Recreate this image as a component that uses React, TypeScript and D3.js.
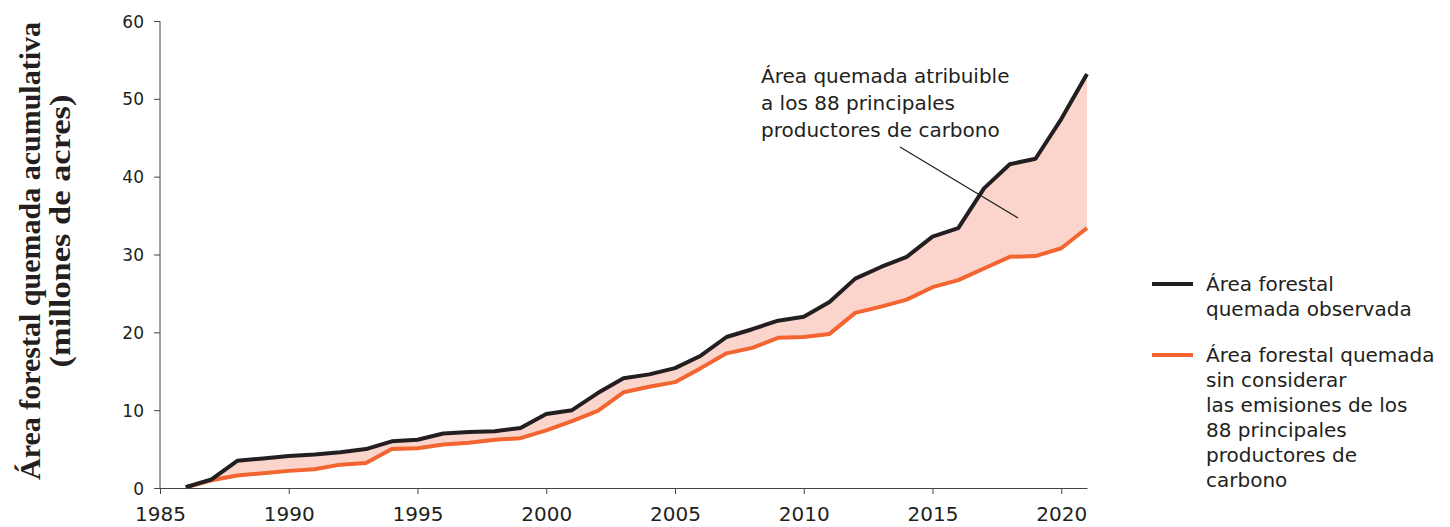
import React, { useEffect, useRef } from "react";
import * as d3 from "d3";

const years = [
  1986, 1987, 1988, 1989, 1990, 1991, 1992, 1993, 1994, 1995, 1996, 1997,
  1998, 1999, 2000, 2001, 2002, 2003, 2004, 2005, 2006, 2007, 2008, 2009,
  2010, 2011, 2012, 2013, 2014, 2015, 2016, 2017, 2018, 2019, 2020, 2021,
];
const observed = [
  0.1, 1.1, 3.5, 3.8, 4.1, 4.3, 4.6, 5.0, 6.0, 6.2, 7.0, 7.2,
  7.3, 7.7, 9.5, 10.0, 12.2, 14.1, 14.6, 15.4, 17.0, 19.4, 20.4, 21.5,
  22.0, 23.9, 26.9, 28.4, 29.7, 32.3, 33.4, 38.5, 41.6, 42.3, 47.4, 53.2,
];
const withoutMajors = [
  0.1, 1.0, 1.6, 1.9, 2.2, 2.4, 3.0, 3.2, 5.0, 5.1, 5.6, 5.8,
  6.2, 6.4, 7.4, 8.6, 9.9, 12.3, 13.0, 13.6, 15.4, 17.3, 18.0, 19.3,
  19.4, 19.8, 22.5, 23.3, 24.2, 25.8, 26.7, 28.2, 29.7, 29.8, 30.8, 33.4,
];
const xTicks = [1985, 1990, 1995, 2000, 2005, 2010, 2015, 2020];
const yTicks = [0, 10, 20, 30, 40, 50, 60];
const yTitle = ["Área forestal quemada acumulativa", "(millones de acres)"];
const annotation = [
  "Área quemada atribuible",
  "a los 88 principales",
  "productores de carbono",
];
const legendItems = [
  { color: "#231f20", lines: ["Área forestal", "quemada observada"] },
  {
    color: "#f26531",
    lines: [
      "Área forestal quemada",
      "sin considerar",
      "las emisiones de los",
      "88 principales",
      "productores de",
      "carbono",
    ],
  },
];

const sans = "'DejaVu Sans', sans-serif";
const ink = "#231f20";

export default function App() {
  const svgRef = useRef<SVGSVGElement>(null);

  useEffect(() => {
    if (!svgRef.current) return;
    const svg = d3.select(svgRef.current);
    svg.selectAll("*").remove();

    const x = d3.scaleLinear().domain([1985, 2021]).range([160, 1087]);
    const y = d3.scaleLinear().domain([0, 60]).range([488, 21]);

    const rows = years.map((yr, i) => ({
      year: yr,
      obs: observed[i],
      base: withoutMajors[i],
    }));

    // shaded gap between the two series
    const area = d3
      .area<(typeof rows)[number]>()
      .x((d) => x(d.year))
      .y0((d) => y(d.base))
      .y1((d) => y(d.obs));
    svg.append("path").datum(rows).attr("d", area).attr("fill", "#fbd5cc");

    const lineOf = (key: "obs" | "base") =>
      d3
        .line<(typeof rows)[number]>()
        .x((d) => x(d.year))
        .y((d) => y(d[key]));

    svg
      .append("path")
      .datum(rows)
      .attr("d", lineOf("base"))
      .attr("fill", "none")
      .attr("stroke", "#f26531")
      .attr("stroke-width", 4)
      .attr("stroke-linejoin", "round");

    svg
      .append("path")
      .datum(rows)
      .attr("d", lineOf("obs"))
      .attr("fill", "none")
      .attr("stroke", ink)
      .attr("stroke-width", 4)
      .attr("stroke-linejoin", "round");

    // axes
    const yAxis = svg
      .append("g")
      .attr("transform", "translate(160,0)")
      .call(d3.axisLeft(y).tickValues(yTicks).tickSize(6).tickPadding(10));
    const xAxis = svg
      .append("g")
      .attr("transform", "translate(0,488)")
      .call(
        d3
          .axisBottom(x)
          .tickValues(xTicks)
          .tickFormat(d3.format("d"))
          .tickSize(6)
          .tickSizeOuter(0)
      );
    [yAxis, xAxis].forEach((g) => {
      g.selectAll("path, line").attr("stroke", "#444").attr("stroke-width", 1);
      g.selectAll("text").attr("fill", ink).style("font-family", sans);
    });
    yAxis.selectAll("text").attr("dy", "0.36em").style("font-size", "17px");
    yAxis.select(".domain").attr("d", "M0,21V488");
    xAxis
      .selectAll("text")
      .attr("y", 33)
      .attr("dy", 0)
      .style("font-size", "20px");

    // y title
    const serif = "'Liberation Serif', 'Times New Roman', serif";
    const titlePos = [
      { x: 40, y: 251, len: 458 },
      { x: 70, y: 231, len: 273 },
    ];
    yTitle.forEach((t, i) => {
      svg
        .append("text")
        .attr(
          "transform",
          `translate(${titlePos[i].x},${titlePos[i].y}) rotate(-90)`
        )
        .attr("text-anchor", "middle")
        .attr("textLength", titlePos[i].len)
        .attr("lengthAdjust", "spacingAndGlyphs")
        .style("font-family", serif)
        .style("font-weight", "bold")
        .style("font-size", "29px")
        .attr("fill", ink)
        .text(t);
    });

    // annotation
    const ann = svg
      .append("text")
      .attr("x", 761)
      .attr("y", 83)
      .style("font-family", sans)
      .style("font-size", "20px")
      .attr("fill", ink);
    annotation.forEach((t, i) => {
      ann.append("tspan").attr("x", 761).attr("dy", i === 0 ? 0 : 27).text(t);
    });
    svg
      .append("line")
      .attr("x1", 900)
      .attr("y1", 147)
      .attr("x2", 1018)
      .attr("y2", 218)
      .attr("stroke", ink)
      .attr("stroke-width", 1.2);

    // legend
    const starts = [284, 355];
    legendItems.forEach((item, k) => {
      const ly = starts[k];
      svg
        .append("line")
        .attr("x1", 1152)
        .attr("x2", 1193)
        .attr("y1", ly)
        .attr("y2", ly)
        .attr("stroke", item.color)
        .attr("stroke-width", 4);
      const t = svg
        .append("text")
        .attr("x", 1206)
        .attr("y", ly + 7)
        .style("font-family", sans)
        .style("font-size", "20px")
        .attr("fill", ink);
      item.lines.forEach((s, i) => {
        t.append("tspan").attr("x", 1206).attr("dy", i === 0 ? 0 : 25).text(s);
      });
    });
  }, []);

  return (
    <svg
      ref={svgRef}
      width={1450}
      height={527}
      style={{ position: "absolute", left: 0, top: 0, background: "#fff" }}
    />
  );
}
